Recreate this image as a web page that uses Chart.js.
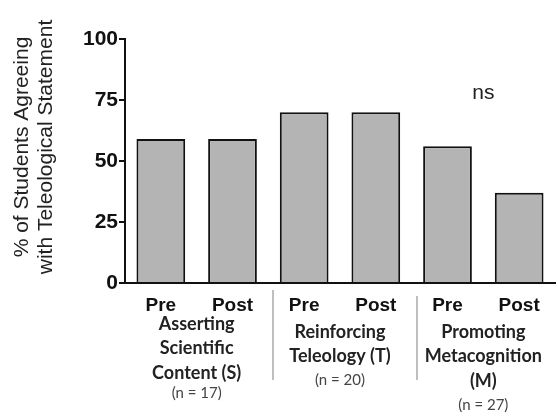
<!DOCTYPE html>
<html>
<head>
<meta charset="utf-8">
<script src="https://cdn.jsdelivr.net/npm/chart.js@4/dist/chart.umd.min.js"></script>
<style>
  html, body { margin: 0; padding: 0; background: #fff; }
  #wrap { width: 558px; height: 416px; }
</style>
</head>
<body>
<div id="wrap"><canvas id="teleo"></canvas></div>
<script>
// datos
const labels = ["Pre", "Post", "Pre", "Post", "Pre", "Post"];
const values = [59, 59, 70, 70, 56, 37];
const yTicks = [0, 25, 50, 75, 100];
const groups = [
    ["Asserting", "Scientific", "Content (S)"],
    ["Reinforcing", "Teleology (T)"],
    ["Promoting", "Metacognition", "(M)"]
];
const groupN = ["(n = 17)", "(n = 20)", "(n = 27)"];
const yTitle = ["% of Students Agreeing", "with Teleological Statement"];

const extras = {
    id: "extras",
    afterDraw(chart) {
        const ctx = chart.ctx;
        const x = chart.scales.x;
        ctx.save();
        // titulo del eje y
        ctx.fillStyle = "#222";
        ctx.font = "21px 'Liberation Sans', Arial, sans-serif";
        ctx.textAlign = "center";
        ctx.textBaseline = "middle";
        ctx.translate(0, 147);
        ctx.rotate(-Math.PI / 2);
        ctx.fillText(yTitle[0], 0, 22);
        ctx.fillText(yTitle[1], 0, 46);
        ctx.restore();

        ctx.save();
        // "ns" sobre el grupo M
        ctx.fillStyle = "#222";
        ctx.font = "21px 'Liberation Sans', Arial, sans-serif";
        ctx.textAlign = "center";
        ctx.textBaseline = "middle";
        let cx = (x.getPixelForValue(4) + x.getPixelForValue(5)) / 2;
        ctx.fillText("ns", cx, 93);

        // etiquetas de grupo
        const firstLine = [324, 332, 332];
        const nY = [393, 380, 405];
        for (let g = 0; g < groups.length; g++) {
            let center = (x.getPixelForValue(g * 2) + x.getPixelForValue(g * 2 + 1)) / 2;
            ctx.font = "bold 18px Lato, 'Open Sans', sans-serif";
            ctx.fillStyle = "#222";
            groups[g].forEach(function (line, i) {
                ctx.fillText(line, center, firstLine[g] + i * 24.5);
            });
            ctx.font = "15px Lato, 'Open Sans', sans-serif";
            ctx.fillStyle = "#444";
            ctx.fillText(groupN[g], center, nY[g]);
        }
        // separadores
        ctx.strokeStyle = "#aaa";
        ctx.lineWidth = 1.5;
        const seps = [[273, 290, 380], [417, 296, 380]];
        for (const s of seps) {
            ctx.beginPath();
            ctx.moveTo(s[0], s[1]);
            ctx.lineTo(s[0], s[2]);
            ctx.stroke();
        }
        ctx.restore();
    }
};

new Chart(document.getElementById("teleo"), {
    type: "bar",
    data: {
        labels: labels,
        datasets: [
            {
                data: values,
                backgroundColor: "#b4b4b4",
                borderColor: "#111",
                borderWidth: 2,
                borderSkipped: "bottom",
                barPercentage: 0.68,
                categoryPercentage: 1,
            },
        ],
    },
    options: {
        responsive: true,
        maintainAspectRatio: false,
        animation: false,
        layout: { padding: { top: 39, right: 3, left: 0, bottom: 0 } },
        scales: {
            y: {
                min: 0,
                max: 100,
                afterBuildTicks(scale) {
                    scale.ticks = yTicks.map(v => ({ value: v }));
                },
                afterFit(scale) { scale.width = 125; },
                grid: { drawOnChartArea: false, drawTicks: true, tickLength: 6, color: "#111", lineWidth: 2 },
                border: { color: "#111", width: 2 },
                ticks: {
                    color: "#111",
                    padding: 1,
                    font: { family: "'Liberation Sans', Arial, sans-serif", size: 21, weight: "bold" },
                },
            },
            x: {
                afterFit(scale) { scale.height = 133; },
                grid: { display: false },
                border: { color: "#111", width: 2 },
                ticks: {
                    color: "#111",
                    padding: 3,
                    font: { family: "'Liberation Sans', Arial, sans-serif", size: 19, weight: "bold" },
                },
            },
        },
        plugins: {
            legend: { display: false },
            tooltip: { enabled: false },
        },
    },
    plugins: [extras],
});
</script>
</body>
</html>
